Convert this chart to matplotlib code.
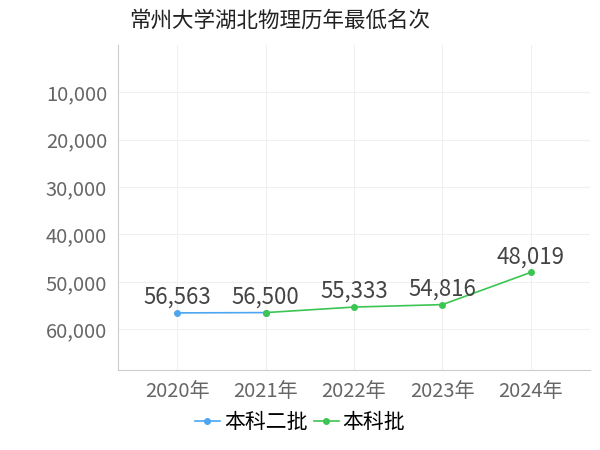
import matplotlib
matplotlib.use("Agg")
import matplotlib.pyplot as plt
import numpy as np

plt.rcParams['font.family'] = ['Noto Sans CJK SC', 'DejaVu Sans']

years = ["2020年", "2021年", "2022年", "2023年", "2024年"]
s1_name = "本科二批"
s1 = [56563, 56500, np.nan, np.nan, np.nan]
s2_name = "本科批"
s2 = [np.nan, 56500, 55333, 54816, 48019]
labels = ["56,563", "56,500", "55,333", "54,816", "48,019"]
label_vals = [56563, 56500, 55333, 54816, 48019]
yticks = [10000, 20000, 30000, 40000, 50000, 60000]

fig = plt.figure(figsize=(6, 4.5), dpi=100)
ax = fig.add_axes([0.197, 0.178, 0.786, 0.722])
x = np.arange(len(years))
ax.plot(x, s1, color="#4da6f0", marker="o", markersize=4, lw=1.2, label=s1_name)
ax.plot(x, s2, color="#3cc552", marker="o", markersize=4, lw=1.2, label=s2_name)
for xi, v, t in zip(x, label_vals, labels):
    ax.annotate(t, (xi, v), xytext=(0, 3), textcoords="offset points",
                ha="center", va="bottom", fontsize=16, color="#444444")
ax.set_xlim(-0.67, 4.67)
ax.set_ylim(68600, 0)
ax.set_yticks(yticks)
ax.set_yticklabels([f"{v:,}" for v in yticks])
ax.set_xticks(x)
ax.set_xticklabels(years)
ax.tick_params(labelsize=14.5, colors="#666666", length=0, pad=8)
ax.grid(True, color="#f0f0f0", lw=0.8)
for s in ["top", "right"]:
    ax.spines[s].set_visible(False)
for s in ["left", "bottom"]:
    ax.spines[s].set_color("#cccccc")
fig.text(0.215, 0.955, "常州大学湖北物理历年最低名次", fontsize=15.5, color="#222222", ha="left", va="center")
fig.legend(loc="lower center", bbox_to_anchor=(0.5, -0.005), ncol=2, frameon=False,
           fontsize=15, handlelength=1.2, columnspacing=0.3, handletextpad=0.2)
fig.savefig("out.png", dpi=100)
